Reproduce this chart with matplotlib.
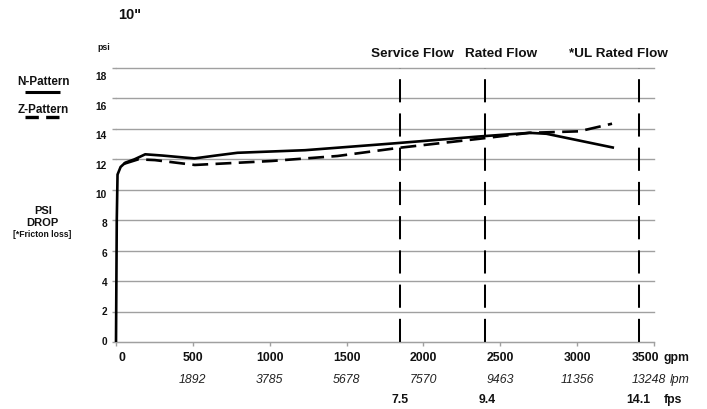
import matplotlib
matplotlib.use('Agg')
import matplotlib.pyplot as plt
from matplotlib.lines import Line2D
from matplotlib.transforms import blended_transform_factory

plt.rcParams['font.family'] = ['Liberation Sans', 'DejaVu Sans']

# N-Pattern (solid)
n_gpm = [0, 5, 10, 30, 60, 120, 190, 300, 510, 650, 790, 1230, 1810, 2360, 2690, 2800, 3240]
n_psi = [0, 8.0, 11.0, 11.5, 11.78, 12.0, 12.33, 12.25, 12.06, 12.25, 12.43, 12.6, 13.05, 13.5, 13.74, 13.68, 12.76]

# Z-Pattern (dashed)
z_gpm = [50, 145, 253, 513, 1011, 1442, 1844, 2364, 2688, 3013, 3227]
z_psi = [11.7, 12.0, 11.95, 11.63, 11.89, 12.22, 12.76, 13.35, 13.74, 13.84, 14.34]

gpm_ticks = [0, 500, 1000, 1500, 2000, 2500, 3000, 3500]
lpm_labels = ['1892', '3785', '5678', '7570', '9463', '11356', '13248']
psi_ticks = [0, 2, 4, 6, 8, 10, 12, 14, 16, 18]

flow_marks = [1850, 2400, 3400]
flow_names = ['Service Flow', 'Rated Flow', '*UL Rated Flow']
fps_labels = ['7.5', '9.4', '14.1']

W, H = 707, 410
fig = plt.figure(figsize=(W / 100, H / 100), dpi=100)
ax = fig.add_axes([116 / W, 1 - 343 / H, 538 / W, 274 / H])

ax.set_xlim(0, 3500)
ax.set_ylim(0, 18)
for s in ['top', 'right', 'left']:
    ax.spines[s].set_visible(False)
ax.spines['bottom'].set_color('#a0a0a0')
ax.set_yticks(psi_ticks)
ax.set_xticks(gpm_ticks)
ax.tick_params(axis='both', colors='#a0a0a0', length=3, width=1, labelleft=False, labelbottom=False)
ax.grid(axis='y', color='#a0a0a0', lw=1)
ax.set_axisbelow(True)
for g in ax.get_ygridlines():
    g.set_clip_on(False)

# curves
ax.plot(n_gpm, n_psi, color='black', lw=1.9, solid_capstyle='butt', clip_on=False, zorder=3)
ax.plot(z_gpm, z_psi, color='black', lw=1.9, linestyle=(0, (6, 2.8)), clip_on=False, zorder=3)

# vertical flow markers
for x in flow_marks:
    ax.plot([x, x], [0, 18], color='black', lw=1.45, linestyle=(0, (11.5, 5.5)), clip_on=False, zorder=2)

fx = lambda px: px / W
fy = lambda py: 1 - py / H

bold = dict(fontweight='bold', color='#111111')
ax_px = blended_transform_factory(ax.transData, fig.transFigure)

# flow names above the chart
for cx, name in zip([412, 501, 618], flow_names):
    fig.text(fx(cx), fy(54), name, ha='center', va='center', fontsize=9.7, **bold)

# y tick labels
for v in psi_ticks:
    ax.text(fx(107), v * 0.964 + 0.09, str(v), transform=blended_transform_factory(fig.transFigure, ax.transData),
            ha='right', va='center', fontsize=7.3, **bold)

# x tick labels
for v in gpm_ticks:
    off = {0: 40, 3500: -55}.get(v, 0)
    ax.text(v + off, fy(358), str(v), transform=ax_px, ha='center', va='center', fontsize=8.8, **bold)
for v, lab in zip(gpm_ticks[1:], lpm_labels):
    off = -32 if v == 3500 else 0
    ax.text(v + off, fy(380), lab, transform=ax_px, ha='center', va='center', fontsize=8.8,
            style='italic', color='#222222')
for x, lab in zip(flow_marks, fps_labels):
    ax.text(x + (15 if x == 2400 else 0), fy(400), lab, transform=ax_px, ha='center', va='center', fontsize=8.8, **bold)

fig.text(fx(664), fy(358), 'gpm', ha='left', va='center', fontsize=8.8, **bold)
fig.text(fx(670), fy(380), 'lpm', ha='left', va='center', fontsize=8.8, style='italic', color='#222222')
fig.text(fx(664), fy(400), 'fps', ha='left', va='center', fontsize=8.8, **bold)

# titles and side labels
fig.text(fx(118), fy(15), '10"', ha='left', va='center', fontsize=10.5, **bold)
fig.text(fx(97), fy(47), 'psi', ha='left', va='center', fontsize=6.3, **bold)
fig.text(fx(43), fy(82), 'N-Pattern', ha='center', va='center', fontsize=8.4, **bold)
fig.text(fx(43), fy(110), 'Z-Pattern', ha='center', va='center', fontsize=8.4, **bold)
fig.text(fx(43), fy(211), 'PSI', ha='center', va='center', fontsize=8, **bold)
fig.text(fx(42), fy(223), 'DROP', ha='center', va='center', fontsize=8, **bold)
fig.text(fx(42), fy(235), '[*Fricton loss]', ha='center', va='center', fontsize=6.2, **bold)

# legend swatches
fig.add_artist(Line2D([fx(25), fx(60)], [fy(93), fy(93)], color='black', lw=2.2, solid_capstyle='butt'))
fig.add_artist(Line2D([fx(25), fx(61)], [fy(118), fy(118)], color='black', lw=2.4, linestyle=(0, (4, 2.2))))

fig.savefig('out.png', dpi=100)
